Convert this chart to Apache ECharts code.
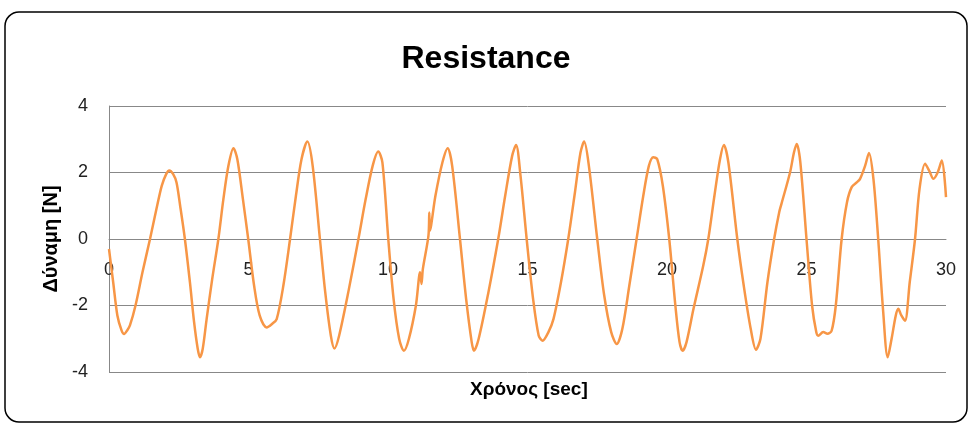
<!DOCTYPE html>
<html>
<head>
<meta charset="utf-8">
<script src="https://cdn.jsdelivr.net/npm/echarts@6/dist/echarts.min.js"></script>
<style>
  html, body { margin: 0; padding: 0; background: #fff; }
  #chart { width: 972px; height: 425px; }
</style>
</head>
<body>
<div id="chart"></div>
<script>
// χρόνος (sec) και δύναμη (N), διαβασμένα από το γράφημα
let timeSec = [
  0.00, 0.15, 0.30, 0.45, 0.54, 0.65, 0.75, 0.95, 1.20, 1.47, 1.70, 1.89, 2.05, 2.16, 2.30, 2.42, 2.55, 2.72, 2.90,
  3.05, 3.18, 3.26, 3.36, 3.50, 3.70, 3.92, 4.10, 4.28, 4.46, 4.60, 4.80, 4.99, 5.20, 5.40, 5.65, 5.85, 6.01, 6.25,
  6.49, 6.70, 6.90, 7.11, 7.30, 7.56, 7.75, 7.95, 8.08, 8.25, 8.60, 8.94, 9.20, 9.45, 9.65, 9.80, 10.01, 10.20,
  10.40, 10.57, 10.75, 11.00, 11.15, 11.20, 11.25, 11.45, 11.48, 11.50, 11.70, 11.95, 12.14, 12.30, 12.58, 12.80,
  13.00, 13.08, 13.25, 13.60, 13.95, 14.20, 14.45, 14.59, 14.75, 14.97, 15.20, 15.40, 15.54, 15.75, 15.93, 16.20,
  16.46, 16.70, 16.90, 17.03, 17.20, 17.50, 17.75, 18.00, 18.20, 18.40, 18.65, 18.91, 19.15, 19.35, 19.51, 19.65,
  19.85, 20.08, 20.30, 20.45, 20.56, 20.70, 20.95, 21.30, 21.48, 21.70, 21.90, 22.04, 22.20, 22.52, 22.75, 23.00,
  23.19, 23.35, 23.60, 23.84, 24.02, 24.10, 24.41, 24.55, 24.65, 24.78, 25.00, 25.20, 25.35, 25.42, 25.60, 25.75, 25.90,
  26.05, 26.26, 26.45, 26.62, 26.80, 26.92, 27.10, 27.24, 27.40, 27.57, 27.75, 27.91, 28.05, 28.20, 28.29, 28.40,
  28.53, 28.70, 28.89, 29.05, 29.25, 29.40, 29.55, 29.70, 29.85, 30.00
];
let forceN = [
  -0.30, -1.30, -2.30, -2.75, -2.86, -2.75, -2.60, -2.00, -1.00, 0.00, 0.90, 1.60, 1.95, 2.06, 1.95, 1.70, 1.00, 0.00, -1.30,
  -2.50, -3.30, -3.56, -3.30, -2.40, -1.20, 0.00, 1.20, 2.20, 2.73, 2.40, 1.20, 0.00, -1.40, -2.30, -2.66, -2.55, -2.41, -1.40,
  0.00, 1.30, 2.40, 2.93, 2.20, 0.00, -1.60, -2.90, -3.29, -2.90, -1.50, 0.00, 1.20, 2.20, 2.63, 2.30, 0.00, -1.80,
  -3.00, -3.36, -3.00, -2.00, -1.00, -1.35, -0.90, 0.10, 0.80, 0.25, 1.30, 2.30, 2.73, 2.20, 0.00, -1.80,
  -3.10, -3.36, -3.00, -1.60, 0.00, 1.30, 2.50, 2.83, 1.90, 0.00, -1.80, -2.90, -3.06, -2.80, -2.41, -1.30,
  0.00, 1.40, 2.60, 2.93, 2.20, 0.00, -1.70, -2.80, -3.16, -2.70, -1.40, 0.00, 1.30, 2.20, 2.46, 2.40,
  1.60, 0.00, -2.00, -3.10, -3.36, -3.10, -2.10, -0.80, 0.00, 1.30, 2.40, 2.83, 2.30, 0.00, -1.40, -2.70,
  -3.33, -3.00, -1.30, 0.00, 0.80, 1.05, 2.00, 2.60, 2.86, 2.30, 0.00, -2.00, -2.80, -2.91, -2.80, -2.85, -2.76,
  -2.00, 0.00, 1.10, 1.56, 1.70, 1.81, 2.20, 2.59, 1.80, 0.00, -2.20, -3.56, -3.00, -2.30, -2.10, -2.30,
  -2.46, -1.30, 0.00, 1.50, 2.26, 2.05, 1.81, 2.00, 2.36, 1.26
];
let xTicks = [0, 5, 10, 15, 20, 25, 30];
let yTicks = [-4, -2, 0, 2, 4];

let points = [];
for (let i = 0, j = timeSec.length; i < j; i++) {
  points.push([timeSec[i], forceN[i]]);
}

let myChart = echarts.init(document.getElementById('chart'), null, { renderer: 'canvas' });
let font = 'Liberation Sans, Arial, sans-serif';

// ύψος του grid, για να ανέβει ο άξονας x στο μηδέν
let gridTop = 106;
let gridBottom = 53;
let plotH = 425 - gridTop - gridBottom;
let zeroShift = plotH * (0 - yTicks[0]) / (yTicks[yTicks.length - 1] - yTicks[0]);

let option = {
  backgroundColor: '#fff',
  animation: false,
  title: {
    text: 'Resistance',
    left: 'center',
    top: 38,
    textStyle: { fontFamily: font, fontSize: 32, fontWeight: 'bold', color: '#000' }
  },
  graphic: [
    {
      type: 'rect',
      shape: { x: 5, y: 12, width: 962, height: 410, r: 14 },
      style: { fill: 'none', stroke: '#000', lineWidth: 1.5 },
      z: 100
    },
    {
      type: 'text',
      left: 470,
      top: 380,
      style: { text: 'Χρόνος [sec]', fontFamily: font, fontSize: 19, fontWeight: 'bold', fill: '#000' }
    }
  ],
  grid: { left: 109, right: 26, top: gridTop, bottom: gridBottom },
  xAxis: {
    type: 'value',
    min: xTicks[0],
    max: xTicks[xTicks.length - 1],
    interval: 5,
    offset: -zeroShift,
    axisLine: { onZero: false, lineStyle: { color: '#888', width: 1 } },
    axisTick: { show: false },
    axisLabel: { margin: 22, fontFamily: font, fontSize: 18, color: '#222' },
    splitLine: { show: false }
  },
  yAxis: {
    type: 'value',
    min: yTicks[0],
    max: yTicks[yTicks.length - 1],
    interval: 2,
    name: 'Δύναμη [N]',
    nameLocation: 'middle',
    nameGap: 47,
    nameTextStyle: { fontFamily: font, fontSize: 20, fontWeight: 'bold', color: '#000' },
    axisLine: { show: true, lineStyle: { color: '#888', width: 1 } },
    axisTick: { show: false },
    axisLabel: { margin: 21, fontFamily: font, fontSize: 18, color: '#222' },
    splitLine: { show: true, lineStyle: { color: '#888', width: 1 } }
  },
  series: [{
    type: 'line',
    data: points,
    showSymbol: false,
    smooth: 0.3,
    lineStyle: { color: '#F79646', width: 2.5 },
    itemStyle: { color: '#F79646' }
  }]
};
myChart.setOption(option);
</script>
</body>
</html>
